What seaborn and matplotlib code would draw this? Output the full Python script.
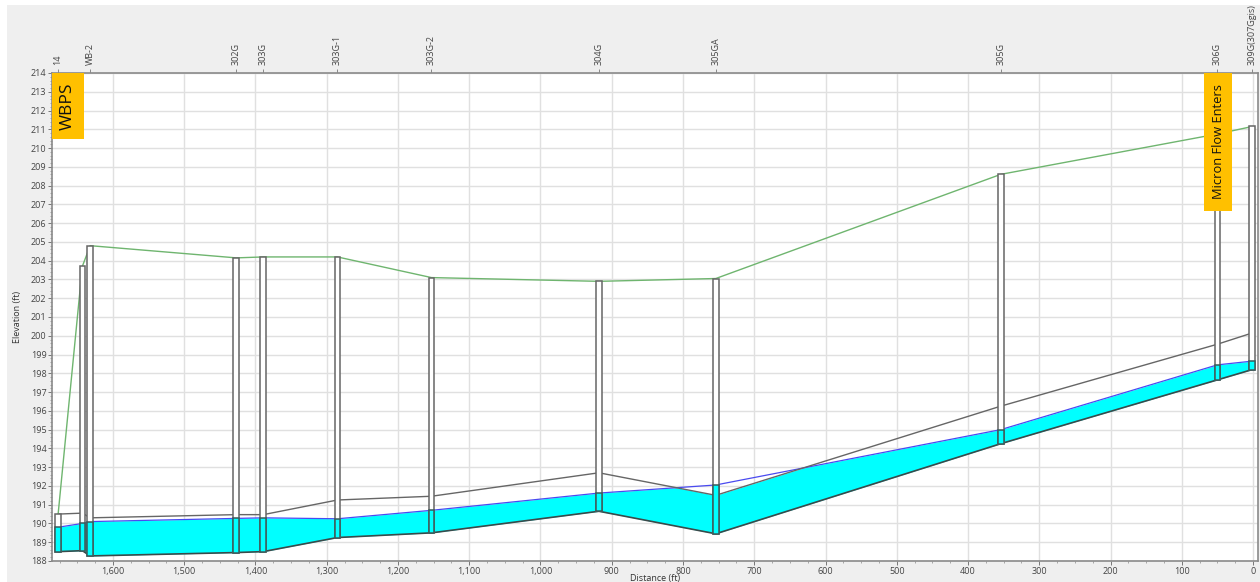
import numpy as np
import matplotlib
matplotlib.use('Agg')
import matplotlib.pyplot as plt
from matplotlib.patches import Rectangle
from matplotlib.ticker import MultipleLocator, FuncFormatter
import seaborn as sns

# stations, distance from the outfall (ft)
station = [1677, 1643, 1632, 1427, 1389, 1285, 1153, 918, 754, 354, 50, 1]
rim = [190.5, 203.7, 204.8, 204.15, 204.2, 204.2, 203.1, 202.9, 203.05, 208.6, 210.75, 211.15]
crown = [190.5, 190.55, 190.3, 190.47, 190.47, 191.25, 191.45, 192.7, 191.5, 196.25, 199.55, 200.15]
water = [189.8, 190.0, 190.1, 190.27, 190.3, 190.25, 190.7, 191.62, 192.05, 195.0, 198.45, 198.65]
invert = [188.5, 188.55, 188.27, 188.45, 188.5, 189.25, 189.5, 190.65, 189.45, 194.25, 197.65, 198.2]

label_dist = [1677, 1632, 1427, 1389, 1285, 1153, 918, 754, 354, 50, 1]
label_names = ['14', 'WB-2', '302G', '303G', '303G-1', '303G-2', '304G', '305GA', '305G', '306G', '309G(307Ggis)']

sns.set_theme(style='white')
plt.rcParams['font.family'] = ['Open Sans', 'DejaVu Sans']

fig = plt.figure(figsize=(12.6, 5.82), dpi=100, facecolor='white')
fig.patches.append(Rectangle((7 / 1260, 0), 1253 / 1260, 577 / 582, transform=fig.transFigure,
                             facecolor='#efefef', edgecolor='none', zorder=-5))
ax = fig.add_axes([52 / 1260, 21 / 582, 1206 / 1260, 488 / 582])
ax.set_facecolor('white')

# pipe fill is limited by the crown, so work it out on a fine grid
xs = np.linspace(station[-1], station[0], 1500)
wi = np.interp(xs, station[::-1], water[::-1])
ci = np.interp(xs, station[::-1], crown[::-1])
ii = np.interp(xs, station[::-1], invert[::-1])
ax.fill_between(xs, ii, np.minimum(wi, ci), color='#00ffff', lw=0, zorder=2)

sns.lineplot(x=station, y=water, estimator=None, sort=False, color='#4a4af0', lw=0.9, ax=ax, zorder=3)
sns.lineplot(x=station, y=crown, estimator=None, sort=False, color='#666666', lw=1.0, ax=ax, zorder=3)
sns.lineplot(x=station, y=invert, estimator=None, sort=False, color='#3a4a4a', lw=1.2, ax=ax, zorder=3)
sns.lineplot(x=station, y=rim, estimator=None, sort=False, color='#6fb56f', lw=1.0, ax=ax, zorder=3)

# manholes
heights = np.array(rim) - np.array(invert)
wet = np.array(water) - np.array(invert)
ax.bar(station, heights, bottom=invert, width=8, facecolor='white', edgecolor='#666666', lw=1.1, zorder=4)
ax.bar(station, wet, bottom=invert, width=8, facecolor='#00ffff', edgecolor='#3a5a5a', lw=1.1, zorder=5)

ax.set_xlim(1685.6, -7)
ax.set_ylim(188, 214)
ax.xaxis.set_major_locator(MultipleLocator(100))
ax.xaxis.set_minor_locator(MultipleLocator(25))
ax.yaxis.set_major_locator(MultipleLocator(1))
ax.yaxis.set_minor_locator(MultipleLocator(0.2))
ax.xaxis.set_major_formatter(FuncFormatter(lambda v, p: f'{int(v):,}'))
ax.grid(True, which='major', color='#e0e0e0', lw=1.0, zorder=0)
ax.set_axisbelow(True)
ax.tick_params(axis='both', which='major', length=3, width=0.7, color='#777777', labelsize=6.5,
               labelcolor='#444444', pad=1, bottom=True, left=True)
ax.tick_params(axis='both', which='minor', length=1.5, width=0.5, color='#888888', bottom=True, left=True)
ax.set_xlabel('Distance (ft)', fontsize=6.5, color='#333333', labelpad=-1)
ax.set_ylabel('Elevation (ft)', fontsize=6.5, color='#333333', labelpad=6)
for side in ax.spines:
    ax.spines[side].set_color('#8a8a8a')
    ax.spines[side].set_linewidth(1.2)
    ax.spines[side].set_visible(True)

top = ax.secondary_xaxis('top')
top.set_xticks(label_dist)
top.set_xticklabels(label_names, rotation=90, fontsize=6.5, color='#444444')
top.tick_params(length=3, width=0.7, color='#888888', pad=3)
top.spines['top'].set_visible(False)

# callouts, in pixels of the reference
for x0, x1, y1, txt, size in [(52, 84, 139, 'WBPS', 12.5), (1204, 1232, 211, 'Micron Flow Enters', 9.3)]:
    ax.add_patch(Rectangle((x0 / 1260, 1 - y1 / 582), (x1 - x0) / 1260, (y1 - 73) / 582,
                           transform=fig.transFigure, facecolor='#ffc000', edgecolor='none', zorder=8))
    ax.text((x0 + x1) / 2 / 1260, 1 - (73 + y1) / 2 / 582, txt, transform=fig.transFigure, rotation=90,
            ha='center', va='center', fontsize=size, color='#111111', zorder=9)

fig.savefig('out.png', dpi=100, facecolor=fig.get_facecolor())
